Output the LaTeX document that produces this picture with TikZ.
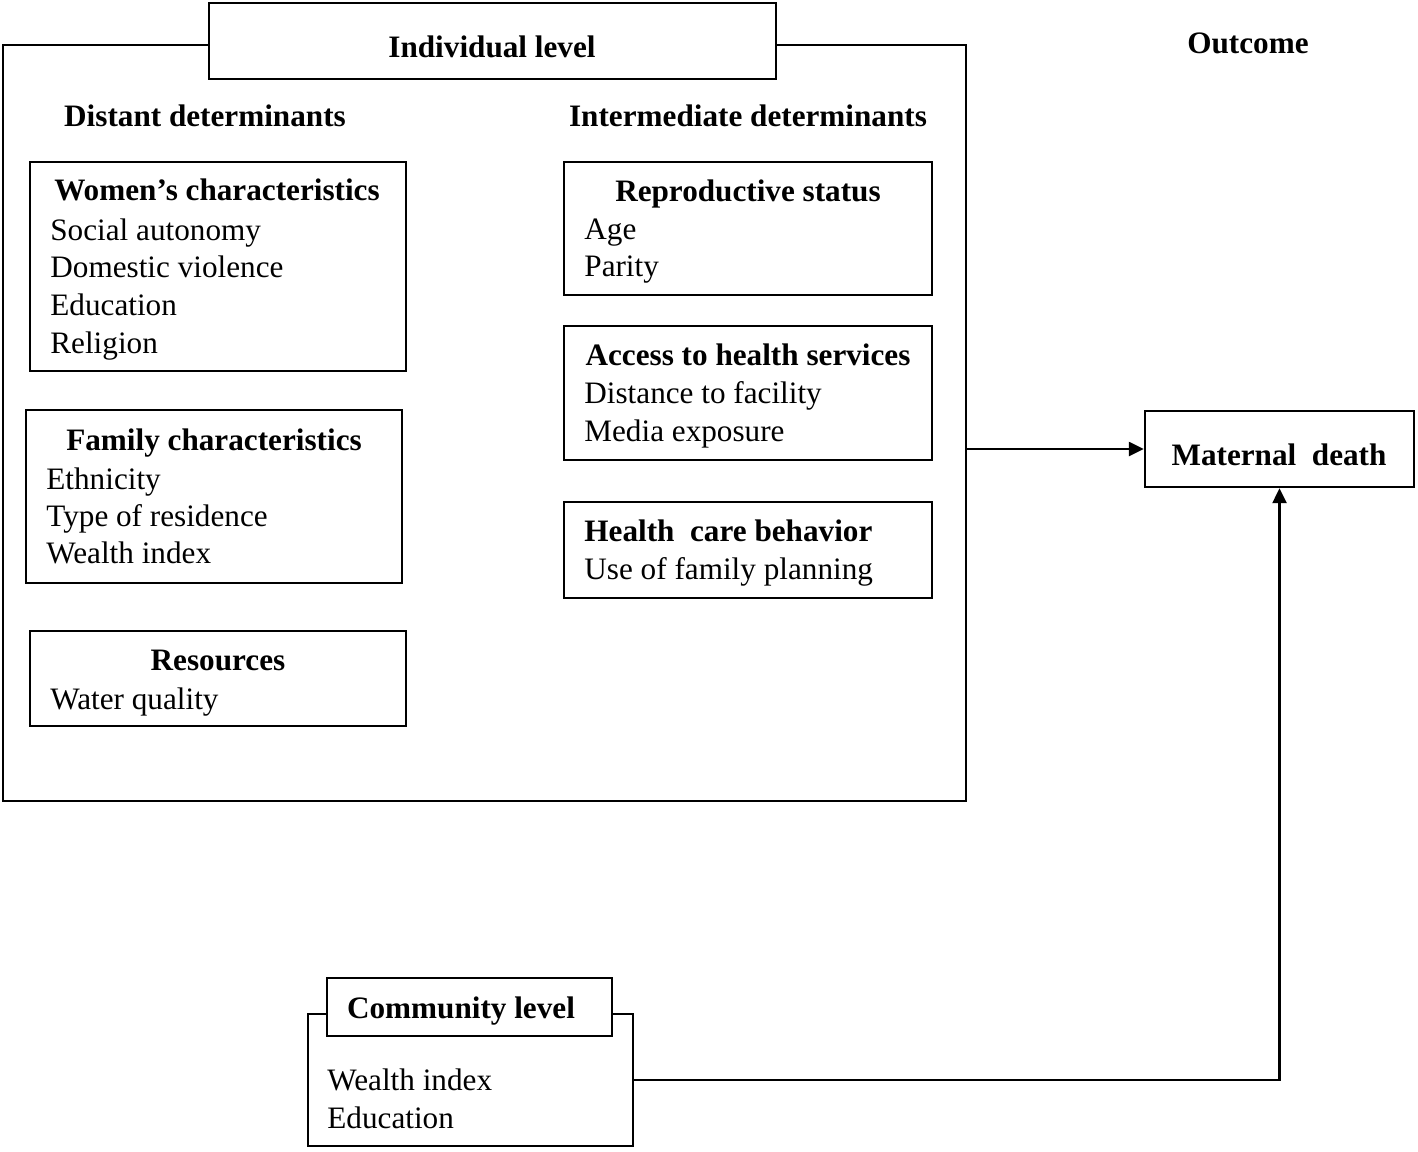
\documentclass[tikz,border=0pt]{standalone}
\usepackage{fontspec}
\setmainfont{Liberation Serif}
\usepackage{tikz}
\usetikzlibrary{arrows.meta, positioning, fit, backgrounds}

\begin{document}
\begin{tikzpicture}[
        x=0.5pt, y=-0.5pt,
        box/.style={rectangle, draw=black, line width=1.2pt, inner sep=0pt},
        titlebox/.style={box, fill=white},
        head/.style={font=\fontsize{15.6}{19}\selectfont\bfseries, inner sep=0pt, anchor=base},
        item/.style={font=\fontsize{15.6}{19}\selectfont, inner sep=0pt, anchor=base west},
        arrow/.style={-{Triangle[length=7.5pt, width=7pt]}, line width=1.2pt},
    ]
        \useasboundingbox (0,0) rectangle (1418,1151);

        % Individual level frame
        \node[box, fit={(3,45) (966,801)}] (indiv) {};
        \node[titlebox, fit={(209,3) (776,79)}] (indivT) {};
        \node[head] (indivL) at (492,57) {Individual level};
        \node[head] (outcome) at (1248,53) {Outcome};

        % Column headings
        \node[head] (distant) at (205,126) {Distant determinants};
        \node[head] (interm) at (748,126) {Intermediate determinants};

        % Distant determinants
        \node[box, fit={(30,162) (406,371)}] (women) {};
        \node[head] (womenT) at (217,200) {Women’s characteristics};
        \foreach \t [count=\i from 0] in {Social autonomy, Domestic violence, Education, Religion}
            \node[item] (women-\i) at (50,{240+37.8*\i}) {\t};

        \node[box, fit={(26,410) (402,583)}] (family) {};
        \node[head] (familyT) at (214,450) {Family characteristics};
        \foreach \t [count=\i from 0] in {Ethnicity, Type of residence, Wealth index}
            \node[item] (family-\i) at (46,{489+37.2*\i}) {\t};

        \node[box, fit={(30,631) (406,726)}] (resources) {};
        \node[head] (resourcesT) at (218,670) {Resources};
        \node[item] (resources-0) at (50,709) {Water quality};

        % Intermediate determinants
        \node[box, fit={(564,162) (932,295)}] (repro) {};
        \node[head] (reproT) at (748,201) {Reproductive status};
        \foreach \t [count=\i from 0] in {Age, Parity}
            \node[item] (repro-\i) at (584,{239+37.5*\i}) {\t};

        \node[box, fit={(564,326) (932,460)}] (access) {};
        \node[head] (accessT) at (748,365) {Access to health services};
        \foreach \t [count=\i from 0] in {Distance to facility, Media exposure}
            \node[item] (access-\i) at (584,{403+38*\i}) {\t};

        \node[box, fit={(564,502) (932,598)}] (behav) {};
        \node[head, anchor=base west] (behavT) at (584,541) {Health\ \ care behavior};
        \node[item] (behav-0) at (584,579) {Use of family planning};

        % Outcome
        \node[box, fit={(1145,411) (1414,487)}] (death) {};
        \node[head] (deathT) at (1279,465) {Maternal\ \ death};

        % Community level
        \node[box, fit={(308,1014) (633,1146)}] (community) {};
        \node[titlebox, fit={(327,978) (612,1036)}] (communityT) {};
        \node[head] (communityL) at (461,1018) {Community level};
        \foreach \t [count=\i from 0] in {Wealth index, Education}
            \node[item] (community-\i) at (327,{1090+38*\i}) {\t};

        % Arrows
        \draw[arrow] (indiv.east |- death.west) -- (death.west);
        \draw[arrow] (community.east) -| (death.south);
    \end{tikzpicture}
\end{document}
